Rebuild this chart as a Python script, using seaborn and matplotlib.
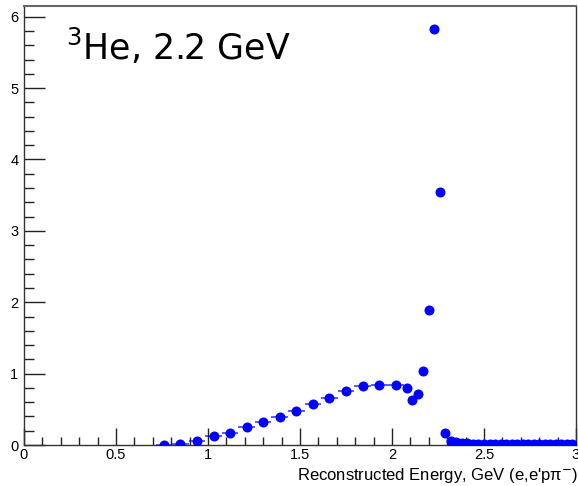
import matplotlib
matplotlib.use("Agg")
import matplotlib.pyplot as plt
from matplotlib.ticker import MultipleLocator
import seaborn as sns
import numpy as np
import pandas as pd

# ---- data ----
wide_x = [0.76, 0.85, 0.94, 1.03, 1.12, 1.21, 1.30, 1.39, 1.48, 1.57, 1.66, 1.75, 1.84, 1.93, 2.02]
wide_y = [0.00, 0.02, 0.06, 0.12, 0.17, 0.25, 0.32, 0.39, 0.48, 0.57, 0.66, 0.75, 0.82, 0.84, 0.84]
narrow_x = [2.08, 2.11, 2.14, 2.17, 2.20, 2.23, 2.26, 2.29,
            2.32, 2.35, 2.38, 2.41, 2.44, 2.47, 2.50, 2.53, 2.56, 2.59, 2.62, 2.65,
            2.68, 2.71, 2.74, 2.77, 2.80, 2.83, 2.86, 2.89, 2.92, 2.95, 2.98]
narrow_y = [0.80, 0.63, 0.72, 1.03, 1.89, 5.83, 3.54, 0.17,
            0.05, 0.04, 0.03, 0.03, 0.02, 0.02, 0.02, 0.02, 0.02, 0.02, 0.02, 0.02,
            0.02, 0.02, 0.02, 0.02, 0.02, 0.02, 0.02, 0.02, 0.02, 0.02, 0.02]
wide_w = 0.09
narrow_w = 0.03
x_ticks = [0, 0.5, 1, 1.5, 2, 2.5, 3]
x_tick_labels = ["0", "0.5", "1", "1.5", "2", "2.5", "3"]
y_ticks = [0, 1, 2, 3, 4, 5, 6]
title_text = "$^{3}$He, 2.2 GeV"
x_label = "Reconstructed Energy, GeV (e,e'pπ$^{-}$)"

df = pd.DataFrame({
    "x": wide_x + narrow_x,
    "y": wide_y + narrow_y,
    "w": [wide_w] * len(wide_x) + [narrow_w] * len(narrow_x),
})

sns.set_style("ticks")
plt.rcParams["font.family"] = ["Liberation Sans", "DejaVu Sans"]
plt.rcParams["text.color"] = "black"
plt.rcParams["xtick.labelcolor"] = "black"
plt.rcParams["ytick.labelcolor"] = "black"
plt.rcParams["axes.labelcolor"] = "black"

fig = plt.figure(figsize=(5.78, 4.86), dpi=100)
ax = fig.add_axes([24 / 578, 1 - 445 / 486, 552 / 578, 439 / 486])

ax.errorbar(df["x"], df["y"], xerr=df["w"] / 2, fmt="none", ecolor="blue",
            elinewidth=1.2, alpha=0.75, zorder=2)
sns.scatterplot(data=df, x="x", y="y", ax=ax, color="blue", s=52,
                edgecolor="blue", linewidth=0, zorder=3, legend=False)

ax.set_xlim(0, 3)
ax.set_ylim(0, 6.15)
ax.set_xticks(x_ticks)
ax.set_xticklabels(x_tick_labels)
ax.set_yticks(y_ticks)
ax.xaxis.set_minor_locator(MultipleLocator(0.1))
ax.yaxis.set_minor_locator(MultipleLocator(0.2))
ax.tick_params(axis="x", which="major", direction="in", length=12, width=1,
               color="#222222", labelsize=10.5, pad=2)
ax.tick_params(axis="x", which="minor", direction="in", length=6, width=1, color="#222222")
ax.tick_params(axis="y", which="major", direction="in", length=15, width=1,
               color="#222222", labelsize=10.5, pad=4)
ax.tick_params(axis="y", which="minor", direction="in", length=7, width=1, color="#222222")
for s in ax.spines.values():
    s.set_color("#333333")
    s.set_linewidth(1.0)
ax.spines["top"].set_linewidth(1.5)
ax.spines["top"].set_color("#666666")

ax.set_ylabel("")
ax.set_xlabel(x_label, fontsize=12, ha="right", color="black")
ax.xaxis.set_label_coords(1.004, -0.048)

ax.text(66 / 578, 1 - 60 / 486, title_text, transform=fig.transFigure,
        fontsize=25, family="DejaVu Sans", ha="left", va="baseline", color="black")

fig.savefig("out.png", dpi=100, facecolor="white")
